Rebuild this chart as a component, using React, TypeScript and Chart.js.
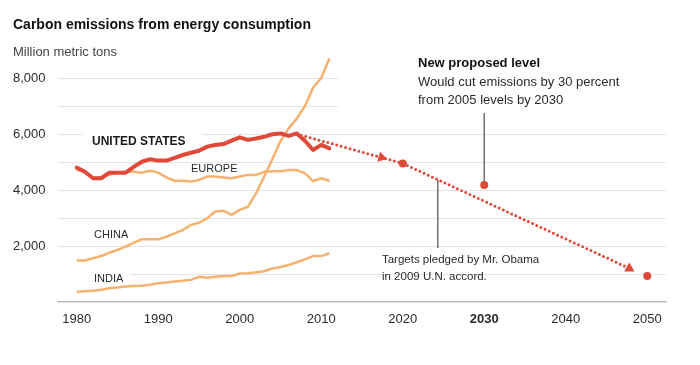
import { useEffect, useRef } from 'react';
import { Chart, registerables } from 'chart.js';

Chart.register(...registerables);

const FONT = '"Liberation Sans", Arial, Helvetica, sans-serif';

const years = [1980, 1981, 1982, 1983, 1984, 1985, 1986, 1987, 1988, 1989, 1990, 1991, 1992, 1993, 1994, 1995, 1996, 1997, 1998, 1999, 2000, 2001, 2002, 2003, 2004, 2005, 2006, 2007, 2008, 2009, 2010, 2011];
const usValues = [4800, 4650, 4420, 4420, 4620, 4620, 4620, 4830, 5010, 5100, 5050, 5050, 5150, 5250, 5330, 5400, 5550, 5610, 5640, 5760, 5880, 5790, 5840, 5900, 5990, 6020, 5930, 6020, 5760, 5430, 5610, 5490];
const europeValues = [4720, 4650, 4450, 4450, 4540, 4620, 4650, 4650, 4620, 4690, 4620, 4450, 4330, 4330, 4300, 4360, 4480, 4480, 4450, 4420, 4480, 4540, 4540, 4650, 4670, 4670, 4710, 4710, 4600, 4320, 4420, 4320];
const chinaValues = [1480, 1480, 1560, 1640, 1760, 1860, 1980, 2120, 2240, 2240, 2240, 2330, 2450, 2570, 2750, 2830, 2990, 3230, 3260, 3110, 3290, 3400, 3880, 4480, 5100, 5750, 6200, 6550, 7000, 7650, 8000, 8700];
const indiaValues = [370, 380, 400, 440, 490, 520, 550, 570, 580, 620, 670, 700, 730, 760, 790, 900, 870, 900, 930, 930, 1020, 1030, 1060, 1100, 1200, 1250, 1320, 1420, 1520, 1640, 1640, 1740];

const projectionYears = [2007, 2020, 2047.8];
const projectionValues = [6000, 4950, 1200];
const arrowYears = [2017.4, 2047.8];
const arrowValues = [5160, 1200];
const targetYears = [2020, 2050];
const targetValues = [4950, 930];
const proposedYears = [2030];
const proposedValues = [4180];

const xTickValues = [1980, 1990, 2000, 2010, 2020, 2030, 2040, 2050];
const yTickValues = [0, 1000, 2000, 3000, 4000, 5000, 6000, 7000, 8000];
const yLabelValues = [2000, 4000, 6000, 8000];

const RED = '#df4a38';
const ORANGE = '#f5b26f';

const pts = (xs: number[], ys: number[]) => xs.map((x, i) => ({ x, y: ys[i] }));

const notesPlugin = {
  id: 'notes',
  beforeDatasetsDraw(chart: any) {
    const { ctx, chartArea } = chart;
    const x = chart.scales.x;
    const y = chart.scales.y;
    const px = (v: number) => x.getPixelForValue(v);
    const py = (v: number) => y.getPixelForValue(v);
    ctx.save();
    ctx.fillStyle = '#ffffff';
    // white space behind the proposed-level note
    ctx.fillRect(px(2012.06), chartArea.top, chartArea.right - px(2012.06) + 1, py(6786) - chartArea.top);
    // label knock-outs
    ctx.fillRect(px(1980.77), py(6036), px(1995.37) - px(1980.77), py(5393) - py(6036));
    ctx.fillRect(chartArea.left, py(1143), px(1986.53) - chartArea.left, py(500) - py(1143));
    // leader lines
    ctx.strokeStyle = '#6f6f6f';
    ctx.lineWidth = 1.5;
    ctx.beginPath();
    ctx.moveTo(px(2030), py(6750));
    ctx.lineTo(px(2030), py(4180));
    ctx.moveTo(px(2024.3), py(4370));
    ctx.lineTo(px(2024.3), py(1930));
    ctx.stroke();
    ctx.restore();
  },
  afterDatasetsDraw(chart: any) {
    const { ctx } = chart;
    const x = chart.scales.x;
    const y = chart.scales.y;
    const px = (v: number) => x.getPixelForValue(v);
    const py = (v: number) => y.getPixelForValue(v);
    ctx.save();
    ctx.textBaseline = 'middle';
    ctx.textAlign = 'left';

    ctx.fillStyle = '#1a1a1a';
    ctx.font = `bold 12px ${FONT}`;
    ctx.fillText('UNITED STATES', px(1981.87), py(5714));

    ctx.fillStyle = '#2a2a2a';
    ctx.font = `11px ${FONT}`;
    ctx.fillText('EUROPE', px(1994.02), py(4750));
    ctx.fillText('CHINA', px(1982.12), py(2393));
    ctx.fillText('INDIA', px(1982.12), py(821));

    ctx.fillStyle = '#111';
    ctx.font = `bold 13px ${FONT}`;
    ctx.fillText('New proposed level', px(2021.87), py(8536));
    ctx.fillStyle = '#2a2a2a';
    ctx.font = `13px ${FONT}`;
    ctx.fillText('Would cut emissions by 30 percent', px(2021.87), py(7857));
    ctx.fillText('from 2005 levels by 2030', px(2021.87), py(7214));

    ctx.font = `11.5px ${FONT}`;
    ctx.fillText('Targets pledged by Mr. Obama', px(2017.45), py(1500));
    ctx.fillText('in 2009 U.N. accord.', px(2017.45), py(893));

    // chart title & unit
    ctx.fillStyle = '#111';
    ctx.font = `bold 14px ${FONT}`;
    ctx.fillText('Carbon emissions from energy consumption', 13, 25);
    ctx.fillStyle = '#444';
    ctx.font = `13px ${FONT}`;
    ctx.fillText('Million metric tons', 13, 52);
    ctx.restore();
  },
};

export default function App() {
  const ref = useRef<HTMLCanvasElement | null>(null);
  useEffect(() => {
    if (!ref.current) return;
    Chart.defaults.font.family = FONT;
    const chart = new Chart(ref.current, {
      type: 'line',
      data: {
        datasets: [
          {
            label: 'Proposed 2030',
            data: pts(proposedYears, proposedValues),
            showLine: false,
            pointRadius: 4,
            pointBackgroundColor: RED,
            pointBorderWidth: 0,
          },
          {
            label: 'Targets',
            data: pts(targetYears, targetValues),
            showLine: false,
            pointRadius: 4,
            pointBackgroundColor: RED,
            pointBorderWidth: 0,
          },
          {
            label: 'Arrows',
            data: pts(arrowYears, arrowValues),
            showLine: false,
            pointStyle: 'triangle',
            pointRadius: 6,
            pointRotation: [105.5, 0],
            pointBackgroundColor: RED,
            pointBorderWidth: 0,
          },
          {
            label: 'United States',
            data: pts(years, usValues),
            borderColor: RED,
            borderWidth: 4,
            pointRadius: 0,
            tension: 0,
            borderJoinStyle: 'round',
            borderCapStyle: 'round',
          },
          {
            label: 'Projection',
            data: pts(projectionYears, projectionValues),
            borderColor: RED,
            borderWidth: 3,
            borderDash: [0, 4.6],
            borderCapStyle: 'round',
            pointRadius: 0,
            tension: 0,
          },
          {
            label: 'China',
            data: pts(years, chinaValues),
            borderColor: ORANGE,
            borderWidth: 2.5,
            pointRadius: 0,
            tension: 0,
            borderJoinStyle: 'round',
          },
          {
            label: 'Europe',
            data: pts(years, europeValues),
            borderColor: ORANGE,
            borderWidth: 2.5,
            pointRadius: 0,
            tension: 0,
            borderJoinStyle: 'round',
          },
          {
            label: 'India',
            data: pts(years, indiaValues),
            borderColor: ORANGE,
            borderWidth: 2.5,
            pointRadius: 0,
            tension: 0,
            borderJoinStyle: 'round',
          },
        ],
      },
      options: {
        animation: false,
        responsive: false,
        maintainAspectRatio: false,
        layout: { padding: { left: 13, right: 34, top: 50, bottom: 23 } },
        plugins: {
          legend: { display: false },
          tooltip: { enabled: false },
          title: { display: false },
        },
        scales: {
          x: {
            type: 'linear',
            min: 1977.7,
            max: 2052.3,
            afterBuildTicks: (scale: any) => {
              scale.ticks = xTickValues.map((v) => ({ value: v }));
            },
            afterFit: (scale: any) => {
              scale.height = 40;
            },
            grid: { display: false, drawTicks: false },
            border: { display: true, color: '#bdbdbd', width: 1.5 },
            ticks: {
              autoSkip: false,
              maxRotation: 0,
              padding: 10,
              color: '#2a2a2a',
              callback: (v: any) => String(v),
              font: (ctx: any) => ({
                family: FONT,
                size: 13,
                weight: ctx.tick && ctx.tick.value === 2030 ? 'bold' : 'normal',
              }),
            },
          },
          y: {
            type: 'linear',
            min: 0,
            max: 9000,
            afterBuildTicks: (scale: any) => {
              scale.ticks = yTickValues.map((v) => ({ value: v }));
            },
            afterFit: (scale: any) => {
              scale.width = 45;
            },
            grid: {
              drawTicks: false,
              lineWidth: 1,
              color: (ctx: any) => (ctx.tick && ctx.tick.value === 0 ? 'rgba(0,0,0,0)' : '#e4e4e4'),
            },
            border: { display: false },
            ticks: {
              crossAlign: 'far',
              color: '#2a2a2a',
              font: { family: FONT, size: 13 },
              callback: (v: any) => (yLabelValues.includes(Number(v)) ? Number(v).toLocaleString('en-US') : ''),
            },
          },
        },
      },
      plugins: [notesPlugin],
    } as any);
    return () => chart.destroy();
  }, []);

  return (
    <div style={{ position: 'absolute', left: 0, top: 0, width: 700, height: 365, background: '#fff' }}>
      <canvas ref={ref} width={700} height={365} style={{ display: 'block' }} />
    </div>
  );
}
